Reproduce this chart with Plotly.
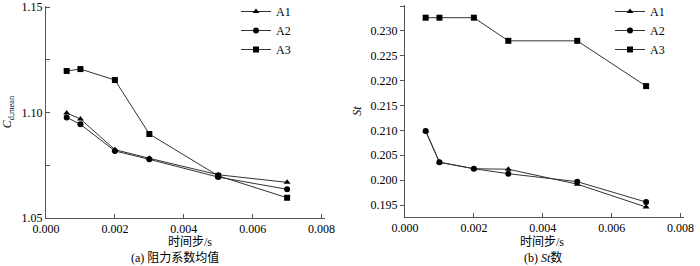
import plotly.graph_objects as go

x_steps = [0.0006, 0.001, 0.002, 0.003, 0.005, 0.007]
cd_A1 = [1.0998, 1.0969, 1.0824, 1.0783, 1.0705, 1.0669]
cd_A2 = [1.0977, 1.0944, 1.0818, 1.0778, 1.0694, 1.0636]
cd_A3 = [1.1197, 1.1206, 1.1154, 1.0898, 1.0700, 1.0596]
st_A1 = [0.2099, 0.2036, 0.2023, 0.2022, 0.1992, 0.1946]
st_A2 = [0.2099, 0.2036, 0.2023, 0.2013, 0.1997, 0.1956]
st_A3 = [0.23265, 0.23265, 0.23265, 0.2280, 0.2280, 0.2189]
names = ["A1", "A2", "A3"]
symbols = ["triangle-up", "circle", "square"]
x_ticks = [0.0, 0.002, 0.004, 0.006, 0.008]
cd_ticks = [1.05, 1.10, 1.15]
st_ticks = [0.195, 0.200, 0.205, 0.210, 0.215, 0.220, 0.225, 0.230, 0.235]

W, H = 700, 266
serif = "Liberation Serif, Times New Roman, serif"
cjk = "Noto Sans CJK SC"
line_col = "#333333"

fig = go.Figure()
for i, (n, ys) in enumerate(zip(names, [cd_A1, cd_A2, cd_A3])):
    fig.add_trace(go.Scatter(x=x_steps, y=ys, name=n, mode="lines+markers",
                             line=dict(color=line_col, width=1),
                             marker=dict(symbol=symbols[i], size=6, color="black"),
                             xaxis="x", yaxis="y", legend="legend"))
for i, (n, ys) in enumerate(zip(names, [st_A1, st_A2, st_A3])):
    fig.add_trace(go.Scatter(x=x_steps, y=ys, name=n, mode="lines+markers",
                             line=dict(color=line_col, width=1),
                             marker=dict(symbol=symbols[i], size=6, color="black"),
                             xaxis="x2", yaxis="y2", legend="legend2"))

def px_x(p):
    return p / W

def px_y(p):
    return 1 - p / H

axis_common = dict(showgrid=False, zeroline=False, showline=True, linecolor="#555555",
                   linewidth=1, tickfont=dict(family=serif, size=12, color="black"),
                   tickcolor="#555555", automargin=False)

fig.update_layout(
    width=W, height=H, margin=dict(l=0, r=0, t=0, b=0, autoexpand=False),
    paper_bgcolor="white", plot_bgcolor="white",
    xaxis=dict(domain=[px_x(46), px_x(325)], range=[0, 0.0081], tickvals=x_ticks,
               tickformat=".3f", ticks="inside", ticklen=4, anchor="y", **axis_common),
    yaxis=dict(domain=[px_y(218), px_y(6)], range=[1.05, 1.1505], tickvals=cd_ticks,
               tickformat=".2f", ticks="inside", ticklen=4, anchor="x",
               minor=dict(tickvals=[1.075, 1.125], ticks="inside", ticklen=4, tickcolor="#555555"),
               title=dict(text="<i>C</i><sub>d,mean</sub>", font=dict(family=serif, size=12, color="black"),
                          standoff=26),
               **axis_common),
    xaxis2=dict(domain=[px_x(405), px_x(684)], range=[0, 0.0081], tickvals=x_ticks,
                tickformat=".3f", ticks="inside", ticklen=4, anchor="y2", **axis_common),
    yaxis2=dict(domain=[px_y(217), px_y(5)], range=[0.1926, 0.2352], tickvals=st_ticks,
                tickformat=".3f", ticks="outside", ticklen=4, anchor="x2",
                title=dict(text="<i>St</i>", font=dict(family=serif, size=12, color="black"),
                           standoff=6),
                **axis_common),
    legend=dict(x=px_x(236), y=px_y(-3), xanchor="left", yanchor="top",
                bgcolor="rgba(0,0,0,0)", font=dict(family=serif, size=12, color="black"),
                itemwidth=30, tracegroupgap=0),
    legend2=dict(x=px_x(610), y=px_y(-3), xanchor="left", yanchor="top",
                 bgcolor="rgba(0,0,0,0)", font=dict(family=serif, size=12, color="black"),
                 itemwidth=30, tracegroupgap=0),
    showlegend=True,
)

annots = [
    dict(text="时间步/s", x=px_x(190), y=px_y(242)),
    dict(text="(a) 阻力系数均值", x=px_x(175), y=px_y(257)),
    dict(text="时间步/s", x=px_x(542), y=px_y(242)),
    dict(text="(b) <i>St</i>数", x=px_x(543), y=px_y(257)),
]
for a in annots:
    fig.add_annotation(text=a["text"], x=a["x"], y=a["y"], xref="paper", yref="paper",
                       showarrow=False, xanchor="center", yanchor="middle",
                       font=dict(family=serif + ", " + cjk, size=12, color="black"))

fig.write_html("out.html", config={"displayModeBar": False},
               post_script="document.body.style.margin='0';document.body.style.overflow='hidden';")
